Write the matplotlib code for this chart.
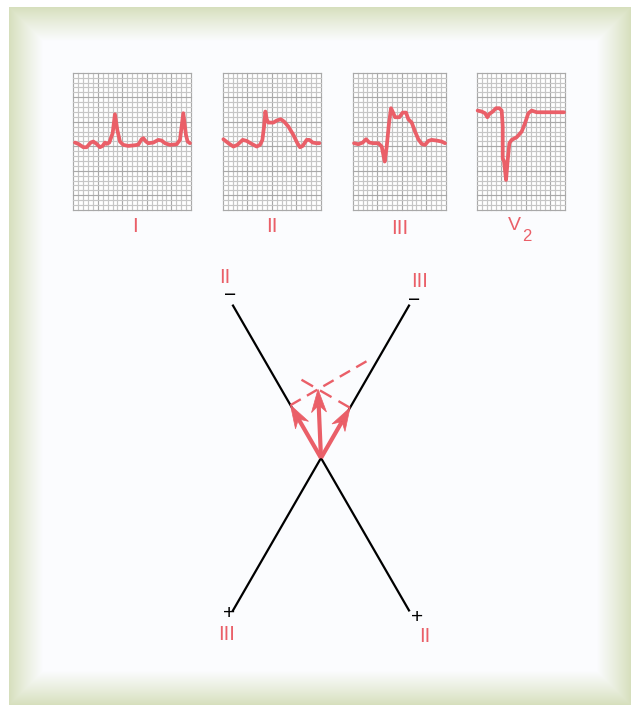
import numpy as np
import matplotlib
matplotlib.use("Agg")
import matplotlib.pyplot as plt
from matplotlib.patches import Polygon

plt.rcParams['font.family'] = ['Liberation Sans', 'DejaVu Sans']

# ---------------- data ----------------
# ECG traces: x in grid cells from box left, y in grid cells above box bottom
lead_names = ["I", "II", "III", "V2"]
panel_cells_wide = [24, 20, 19, 18]
panel_cells_high = 28

trace_I_x = [0.34, 1.02, 2.04, 2.72, 3.54, 4.08, 4.76, 5.44, 5.99, 6.46, 6.80, 7.35, 8.03, 8.50, 8.98,
             9.52, 10.20, 11.22, 12.59, 13.27, 13.95, 14.29, 14.83, 15.31, 16.33, 17.35, 18.03, 18.71,
             19.73, 21.09, 21.77, 22.45, 22.99, 23.33, 23.81]
trace_I_y = [13.74, 13.47, 12.79, 12.79, 13.74, 13.95, 13.47, 12.79, 13.06, 13.74, 13.47, 13.74, 15.65,
             19.52, 16.33, 13.95, 13.27, 13.06, 13.20, 13.33, 14.42, 14.63, 13.95, 13.61, 13.74, 14.29,
             14.15, 13.61, 13.27, 13.40, 14.29, 19.73, 15.31, 13.95, 13.61]

trace_II_x = [0.14, 1.16, 2.18, 2.99, 4.08, 4.90, 5.92, 6.94, 7.62, 8.10, 8.44, 8.71, 8.98, 9.32, 10.34,
              11.02, 11.84, 12.52, 13.40, 14.42, 15.24, 15.78, 16.33, 17.14, 17.69, 18.37, 19.18, 19.73]
trace_II_y = [14.42, 13.61, 12.93, 13.27, 14.29, 14.08, 13.47, 12.93, 13.27, 14.29, 17.01, 20.07, 18.50,
              17.82, 17.82, 18.23, 18.50, 18.03, 17.01, 15.31, 13.61, 12.79, 13.06, 14.29, 14.29, 13.74,
              13.61, 13.61]

trace_III_x = [0.27, 1.16, 2.04, 2.72, 3.40, 4.22, 5.24, 5.92, 6.26, 6.53, 6.94, 7.41, 7.82, 8.30, 8.64,
               9.52, 10.20, 10.88, 11.36, 12.04, 12.72, 13.40, 14.08, 14.76, 15.44, 16.12, 17.14, 18.16,
               18.84]
trace_III_y = [13.61, 13.40, 13.74, 14.42, 13.74, 13.61, 13.61, 12.93, 11.22, 9.86, 12.93, 17.69, 20.75,
               19.73, 18.91, 18.91, 19.86, 19.86, 18.50, 17.82, 15.99, 14.42, 13.47, 13.27, 14.08, 14.29,
               14.15, 13.95, 13.61]

trace_V2_x = [0.20, 1.02, 1.70, 2.18, 2.59, 3.27, 3.95, 4.63, 5.10, 5.31, 5.31, 5.58, 5.99, 6.33, 6.67,
              7.14, 8.16, 9.18, 9.86, 10.54, 11.22, 12.24, 14.29, 17.82]
trace_V2_y = [20.27, 20.07, 19.73, 18.91, 19.59, 20.07, 20.75, 20.75, 20.27, 17.01, 10.54, 9.86, 6.12,
              10.20, 13.61, 14.29, 14.83, 15.99, 17.69, 19.73, 20.27, 19.93, 19.93, 19.93]

traces = [(trace_I_x, trace_I_y), (trace_II_x, trace_II_y),
          (trace_III_x, trace_III_y), (trace_V2_x, trace_V2_y)]

# Lead axes (degrees, screen convention, y downwards) and projected amplitudes
axis_leads = ["II", "III"]
axis_angles_deg = [60, 120]
projected_amplitudes = [-61, -58]   # negative: toward the minus pole

# ---------------- layout / style ----------------
W, H = 631, 705
RED = "#ea5f68"
fig = plt.figure(figsize=(W / 100, H / 100), dpi=100)
ax = fig.add_axes([0, 0, 1, 1])
ax.set_xlim(0, W)
ax.set_ylim(H, 0)
ax.axis("off")

# frame with green bevel
fx0, fy0, fx1, fy1 = 9, 7, 631, 705
yy, xx = np.mgrid[0:H, 0:W] + 0.5
d = np.minimum.reduce([xx - fx0, fx1 - xx, yy - fy0, fy1 - yy])
t = np.clip(d / 34.0, 0, 1) ** 0.9
green = np.array([214, 223, 188]) / 255
inner = np.array([251, 252, 254]) / 255
img = green[None, None, :] * (1 - t[..., None]) + inner[None, None, :] * t[..., None]
img[d < 0] = 1.0
ax.imshow(img, extent=(0, W, H, 0), zorder=0, interpolation="bilinear")

# ECG panels
cell = 4.9
top = 72.7
lefts = [73.3, 222.7, 352.7, 476.7]
for left, ncx, (tx, ty) in zip(lefts, panel_cells_wide, traces):
    bottom = top + panel_cells_high * cell
    ax.add_patch(plt.Rectangle((left, top), ncx * cell, panel_cells_high * cell,
                               facecolor="white", edgecolor="none", zorder=1))
    for i in range(ncx + 1):
        c = "#a9a9a9" if (i % 5 == 0 or i == ncx) else "#c6c6c6"
        ax.plot([left + i * cell] * 2, [top, bottom], color=c, lw=0.85, zorder=2)
    for j in range(panel_cells_high + 1):
        c = "#a9a9a9" if (j % 5 == 0 or j == panel_cells_high) else "#c6c6c6"
        ax.plot([left, left + ncx * cell], [top + j * cell] * 2, color=c, lw=0.85, zorder=2)
    px = [left + v * cell for v in tx]
    py = [top + (panel_cells_high - v) * cell for v in ty]
    ax.plot(px, py, color=RED, lw=2.7, solid_joinstyle="round", solid_capstyle="round", zorder=3)

lab_kw = dict(color=RED, ha="center", va="center", fontsize=15)
ax.text(135, 227, "I", **lab_kw)
ax.text(272, 227, "II", **lab_kw)
ax.text(399.5, 228, "III", **lab_kw)
ax.text(514, 226, "V", color=RED, ha="center", va="center", fontsize=14)
ax.text(526.5, 236.5, "2", color=RED, ha="center", va="center", fontsize=12)

# hexaxial lead lines
cx, cy = 321, 458
half_len = 176
units = []
for ang in axis_angles_deg:
    u = np.array([np.cos(np.radians(ang)), np.sin(np.radians(ang))])
    units.append(u)
    ax.plot([cx - half_len * u[0], cx + half_len * u[0]],
            [cy - half_len * u[1], cy + half_len * u[1]], color="black", lw=1.6, zorder=3)

# pole labels
pm_kw = dict(color="black", ha="center", va="center", fontsize=15)
ax.text(230.5, 295.5, "\u2212", **pm_kw)
ax.text(414.5, 300, "\u2212", **pm_kw)
ax.text(229, 613.5, "+", **pm_kw)
ax.text(417.5, 617.5, "+", **pm_kw)
ax.text(225, 277.5, "II", color=RED, ha="center", va="center", fontsize=14.5)
ax.text(419.5, 281.5, "III", color=RED, ha="center", va="center", fontsize=14.5)
ax.text(227, 634.5, "III", color=RED, ha="center", va="center", fontsize=14.5)
ax.text(424.5, 636, "II", color=RED, ha="center", va="center", fontsize=14.5)

# projections and resultant
center = np.array([cx, cy], dtype=float)
tips = [center + a * u for a, u in zip(projected_amplitudes, units)]
A = np.array([units[0], units[1]])
res = np.linalg.solve(A, np.array(projected_amplitudes, dtype=float))
res_tip = center + res

# dashed perpendiculars (dash length adjusted so both ends show a dash)
for tip, u, extra in zip(tips, units, [56, 20]):
    perp = np.array([-u[1], u[0]])
    dist = np.dot(res_tip - tip, perp)
    end = tip + perp * (abs(dist) + extra) * np.sign(dist)
    length_pt = np.linalg.norm(end - tip) * 0.72
    lw = 1.7
    n_dash = max(1, int(round((length_pt / lw + 3) / 8)))
    period = (length_pt / lw + 3) / n_dash
    dash_on = period * 5 / 8
    ax.plot([tip[0], end[0]], [tip[1], end[1]], color=RED, lw=lw,
            dashes=(dash_on, period - dash_on), solid_capstyle="butt",
            dash_capstyle="butt", zorder=4)

# arrows with notched heads
head_len, head_half_w, notch = 23.0, 7.5, 16.0
for tip in tips + [res_tip]:
    v = tip - center
    u = v / np.linalg.norm(v)
    n = np.array([-u[1], u[0]])
    back = tip - notch * u
    ax.plot([center[0], back[0]], [center[1], back[1]], color=RED, lw=3.0,
            solid_capstyle="butt", zorder=5)
    head = [tip, tip - head_len * u + head_half_w * n, back, tip - head_len * u - head_half_w * n]
    ax.add_patch(Polygon(head, closed=True, facecolor=RED, edgecolor=RED, lw=0.5, zorder=6))

fig.savefig("out.png", dpi=100)
